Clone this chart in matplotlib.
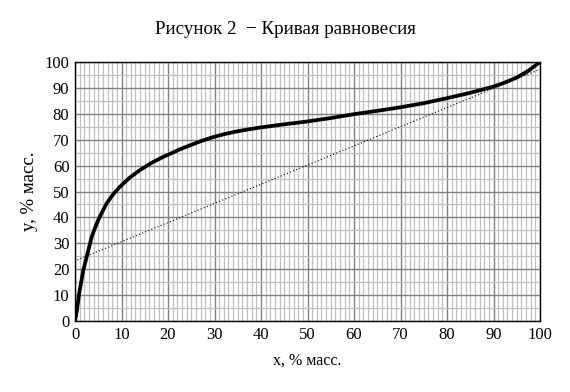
import matplotlib
matplotlib.use("Agg")
import matplotlib.pyplot as plt
from matplotlib.ticker import MultipleLocator

# equilibrium curve
x_eq = [0, 0.4, 0.9, 1.8, 2.7, 3.6, 4.3, 5.0, 5.9, 6.8, 8.2, 9.7, 11.8, 14, 16.5, 19, 22.6,
        24.4, 27, 29.7, 32, 34.5, 37, 39.8, 44.8, 49.8, 54.8, 59.8, 65.6, 69.9, 75,
        79.9, 85, 90, 92.5, 95, 97.5, 100]
y_eq = [0, 4, 10.7, 19.7, 26.1, 32.5, 35.9, 39, 42.3, 45.4, 48.9, 51.9, 55.4, 58.3, 61.1,
        63.4, 66.3, 67.6, 69.4, 71.0, 72.1, 73.1, 73.9, 74.7, 75.9, 77.0, 78.3, 79.8, 81.3,
        82.5, 84.1, 86.0, 88.1, 90.5, 92.1, 94.0, 96.6, 100]

# dotted line
x_line = [0.5, 100]
y_line = [23.6, 97.2]

xticks = list(range(0, 101, 10))
yticks = list(range(0, 101, 10))

plt.rcParams['font.family'] = ['Liberation Serif', 'DejaVu Serif']

fig = plt.figure(figsize=(5.7, 3.92), dpi=100)
ax = fig.add_axes([75/570, 1-321/392, 465/570, 259/392])

ax.plot(x_eq, y_eq, color='black', lw=2.7, solid_capstyle='round',
        solid_joinstyle='round', zorder=3)
ax.plot(x_line, y_line, color='black', lw=0.8, ls=(0, (1, 2)), zorder=3)

ax.set_xlim(0, 100)
ax.set_ylim(0, 100)
ax.set_xticks(xticks)
ax.set_yticks(yticks)
ax.xaxis.set_minor_locator(MultipleLocator(1))
ax.yaxis.set_minor_locator(MultipleLocator(5))
ax.grid(which='minor', color='#c0c0c0', lw=0.9)
ax.grid(which='major', color='#808080', lw=1.0)
ax.set_axisbelow(True)
ax.tick_params(which='both', length=0, labelsize=12, pad=4)
for s in ax.spines.values():
    s.set_color('black')
    s.set_linewidth(1.0)

ax.set_xlabel('x, % масс.', fontsize=11.5)
ax.set_ylabel('y, % масс.', fontsize=13.5)
ax.xaxis.set_label_coords(0.5, -(361 - 321) / 259, transform=ax.transAxes)
ax.yaxis.set_label_coords(-(75 - 30) / 465, 0.5, transform=ax.transAxes)
ax.xaxis.label.set_va('center')
ax.yaxis.label.set_va('center')
fig.text(285/570, 1-30/392, 'Рисунок 2  − Кривая равновесия', ha='center', va='center', fontsize=13.7)

fig.savefig('out.png', dpi=100)
